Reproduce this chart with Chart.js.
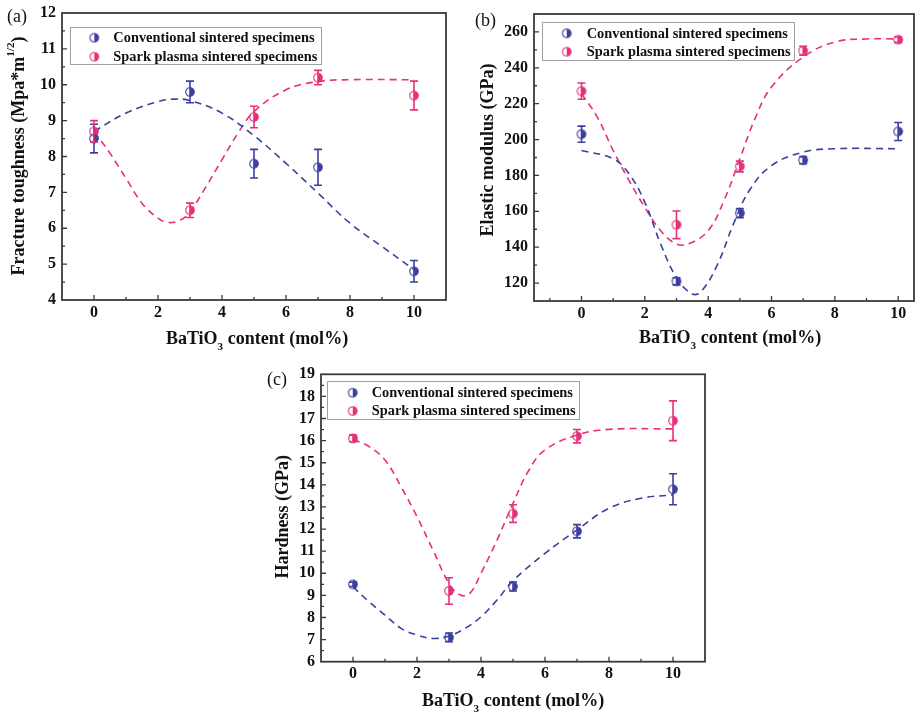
<!DOCTYPE html>
<html>
<head>
<meta charset="utf-8">
<script src="https://cdn.jsdelivr.net/npm/chart.js@4.4.0/dist/chart.umd.min.js"></script>
<style>
  html, body { margin: 0; padding: 0; width: 916px; height: 715px; overflow: hidden; background: #fff; }
  canvas { position: absolute; display: block; }
</style>
</head>
<body>
<canvas id="chartA" style="left:0px;top:0px"></canvas>
<canvas id="chartB" style="left:460px;top:0px"></canvas>
<canvas id="chartC" style="left:260px;top:355px"></canvas>
<script>
// BaTiO3 additions (mol%) shared by all three property plots
const contents = [0, 3, 5, 7, 10];
const xTickValues = [0, 2, 4, 6, 8, 10];
const seriesNames = ['Conventional sintered specimens', 'Spark plasma sintered specimens'];

// (a) fracture toughness, MPa·m^1/2
const toughTicks = [4, 5, 6, 7, 8, 9, 10, 11, 12];
const toughConv = [8.5, 9.8, 7.8, 7.7, 4.8];
const toughConvErr = [0.4, 0.3, 0.4, 0.5, 0.3];
const toughSps = [8.7, 6.5, 9.1, 10.2, 9.7];
const toughSpsErr = [0.3, 0.2, 0.3, 0.2, 0.4];
const toughConvFitX = [0, 1, 2, 2.5, 3, 4, 5, 6, 7, 8, 9, 10];
const toughConvFitY = [8.70, 9.21, 9.53, 9.60, 9.56, 9.21, 8.58, 7.81, 6.98, 6.14, 5.49, 4.85];
const toughSpsFitX = [0, 0.5, 1, 1.5, 2, 2.3, 2.7, 3, 3.5, 4, 4.5, 5, 6, 7, 8, 10];
const toughSpsFitY = [8.70, 8.09, 7.39, 6.70, 6.28, 6.16, 6.23, 6.46, 7.16, 7.91, 8.65, 9.25, 9.86, 10.09, 10.14, 10.14];

// (b) elastic modulus, GPa
const modTicks = [120, 140, 160, 180, 200, 220, 240, 260];
const modConv = [203, 121, 159, 188.5, 204.5];
const modConvErr = [4.5, 2, 2.5, 2, 5];
const modSps = [227, 152.5, 185, 249.5, 255.7];
const modSpsErr = [4.5, 7.7, 3, 2.5, 1.5];
const modConvFitX = [0, 1, 1.5, 2, 2.5, 3, 3.5, 3.8, 4.3, 4.8, 5.3, 6, 7, 8, 10];
const modConvFitY = [193.9, 189.3, 180.9, 165.0, 141.8, 123.1, 113.9, 115.7, 130.6, 153.0, 171.6, 185.5, 193.0, 194.9, 194.9];
const modSpsFitX = [0, 0.5, 1, 1.5, 2, 2.5, 3, 3.4, 4, 4.5, 5, 5.5, 6, 7, 8, 9, 10];
const modSpsFitY = [225.6, 212.5, 193.9, 177.2, 162.2, 149.2, 141.8, 142.0, 149.2, 166.0, 189.3, 212.5, 229.3, 246.0, 254.4, 256.1, 256.1];

// (c) hardness, GPa
const hardTicks = [6, 7, 8, 9, 10, 11, 12, 13, 14, 15, 16, 17, 18, 19];
const hardConv = [9.5, 7.1, 9.4, 11.9, 13.8];
const hardConvErr = [0.1, 0.2, 0.2, 0.3, 0.7];
const hardSps = [16.1, 9.2, 12.7, 16.2, 16.9];
const hardSpsErr = [0.15, 0.6, 0.4, 0.3, 0.9];
const hardConvFitX = [0, 0.5, 1, 1.5, 2, 2.5, 3, 3.5, 4, 4.5, 5, 6, 7, 8, 9, 10];
const hardConvFitY = [9.39, 8.71, 8.11, 7.51, 7.21, 7.05, 7.16, 7.51, 8.03, 8.79, 9.66, 10.90, 11.96, 12.94, 13.39, 13.55];
const hardSpsFitX = [0, 0.5, 1, 1.5, 2, 2.5, 3, 3.35, 3.65, 4, 4.5, 5, 5.5, 6, 7, 8, 10];
const hardSpsFitY = [16.06, 15.73, 15.12, 13.92, 12.56, 11.05, 9.54, 9.02, 9.09, 10.00, 11.50, 13.16, 14.67, 15.58, 16.25, 16.51, 16.53];

const BLUE = '#3c3f9e';
const PINK = '#e6307a';
const INK = '#111';
const FRAME = '#3a3a3a';
const SERIF = '"Liberation Serif", "Times New Roman", serif';

// half-filled circle used as the point marker (open left, solid right)
function halfMarker(color) {
  const c = document.createElement('canvas');
  c.width = 12; c.height = 12;
  const g = c.getContext('2d');
  g.beginPath();
  g.arc(6, 6, 4.3, -Math.PI / 2, Math.PI / 2);
  g.closePath();
  g.fillStyle = color;
  g.fill();
  g.beginPath();
  g.arc(6, 6, 4.3, 0, Math.PI * 2);
  g.strokeStyle = color;
  g.lineWidth = 1.1;
  g.stroke();
  return c;
}
const markerBlue = halfMarker(BLUE);
const markerPink = halfMarker(PINK);

function points(xs, ys) { return xs.map((x, i) => ({ x: x, y: ys[i] })); }

// text runs with optional sub/superscript pieces
function richWidth(ctx, parts, size) {
  let w = 0;
  parts.forEach(p => {
    ctx.font = 'bold ' + (p.sub || p.sup ? size * 0.62 : size) + 'px ' + SERIF;
    p.w = ctx.measureText(p.t).width;
    w += p.w;
  });
  return w;
}
function drawRich(ctx, parts, x0, y, size) {
  let x = x0;
  parts.forEach(p => {
    const s = p.sub || p.sup ? size * 0.62 : size;
    ctx.font = 'bold ' + s + 'px ' + SERIF;
    const dy = p.sub ? size * 0.32 : (p.sup ? -size * 0.42 : 0);
    ctx.fillText(p.t, x, y + dy);
    x += p.w;
  });
}

const errorBarPlugin = {
  id: 'errorBars',
  afterDatasetsDraw(chart) {
    const ctx = chart.ctx;
    const ys = chart.scales.y;
    chart.data.datasets.forEach((ds, di) => {
      if (!ds.errors) return;
      const meta = chart.getDatasetMeta(di);
      ctx.save();
      ctx.strokeStyle = ds.borderColor;
      ctx.lineWidth = 1.6;
      meta.data.forEach((pt, i) => {
        const v = ds.data[i].y, e = ds.errors[i];
        const top = ys.getPixelForValue(v + e);
        const bot = ys.getPixelForValue(v - e);
        const x = pt.x;
        ctx.beginPath();
        ctx.moveTo(x, top); ctx.lineTo(x, bot);
        ctx.moveTo(x - 4, top); ctx.lineTo(x + 4, top);
        ctx.moveTo(x - 4, bot); ctx.lineTo(x + 4, bot);
        ctx.stroke();
      });
      ctx.restore();
    });
  }
};

const decorPlugin = {
  id: 'decor',
  afterDraw(chart) {
    const o = chart.options.plugins.decor;
    const ctx = chart.ctx;
    const a = chart.chartArea;
    const xs = chart.scales.x, ys = chart.scales.y;
    ctx.save();
    // frame
    ctx.strokeStyle = FRAME;
    ctx.lineWidth = 1.8;
    ctx.strokeRect(a.left, a.top, a.right - a.left, a.bottom - a.top);
    // inward ticks on the bottom axis: majors on even, minors on odd values
    ctx.lineWidth = 1.3;
    ctx.beginPath();
    for (let v = Math.ceil(o.xMin); v <= o.xMax; v++) {
      const px = xs.getPixelForValue(v);
      if (px <= a.left + 1 || px >= a.right - 1) continue;
      const len = (v % 2 === 0) ? 5 : 3;
      ctx.moveTo(px, a.bottom); ctx.lineTo(px, a.bottom - len);
    }
    // inward ticks on the left axis
    for (let v = o.yMin; v <= o.yMax + 1e-9; v += o.yMinor) {
      const py = ys.getPixelForValue(v);
      if (py <= a.top + 1 || py >= a.bottom - 1) continue;
      const major = Math.abs(v / o.yMajor - Math.round(v / o.yMajor)) < 1e-6;
      ctx.moveTo(a.left, py); ctx.lineTo(a.left + (major ? 5 : 3), py);
    }
    ctx.stroke();

    // legend
    const L = o.legend;
    ctx.fillStyle = '#fff';
    ctx.fillRect(L.x, L.y, L.w, L.h);
    ctx.strokeStyle = '#a0a0a0';
    ctx.lineWidth = 1;
    ctx.strokeRect(L.x + 0.5, L.y + 0.5, L.w, L.h);
    ctx.font = 'bold 14.4px ' + SERIF;
    ctx.fillStyle = INK;
    ctx.textBaseline = 'middle';
    ctx.textAlign = 'left';
    [markerBlue, markerPink].forEach((m, i) => {
      ctx.drawImage(m, L.mx - 6, L.rows[i] - 6);
      ctx.fillText(seriesNames[i], L.tx, L.rows[i] + 0.5);
    });

    // panel letter
    ctx.font = '18px ' + SERIF;
    ctx.textBaseline = 'alphabetic';
    ctx.fillText(o.label.text, o.label.x, o.label.y);

    // x-axis title
    const xt = [{ t: 'BaTiO' }, { t: '3', sub: true }, { t: ' content (mol%)' }];
    const xw = richWidth(ctx, xt, 18);
    drawRich(ctx, xt, o.xTitle.cx - xw / 2, o.xTitle.y, 18);

    // y-axis title
    ctx.save();
    ctx.translate(o.yTitle.cx, o.yTitle.cy);
    ctx.rotate(-Math.PI / 2);
    ctx.textBaseline = 'middle';
    const yw = richWidth(ctx, o.yTitle.parts, 18);
    drawRich(ctx, o.yTitle.parts, -yw / 2, 0, 18);
    ctx.restore();
    ctx.restore();
  }
};

function makePanel(p) {
  const canvas = document.getElementById(p.id);
  canvas.width = p.w;
  canvas.height = p.h;
  const tickFont = { family: SERIF, weight: 'bold', size: 16 };
  const fitLine = (data, color) => ({
    label: 'fit', data: data, showLine: true, pointRadius: 0,
    borderColor: color, borderWidth: 1.6, borderDash: [7, 5], tension: 0.4
  });
  return new Chart(canvas, {
    type: 'scatter',
    data: {
      datasets: [
        { label: seriesNames[0], data: points(contents, p.conv), errors: p.convErr,
          borderColor: BLUE, backgroundColor: BLUE, pointStyle: markerBlue, pointRadius: 5, showLine: false },
        { label: seriesNames[1], data: points(contents, p.sps), errors: p.spsErr,
          borderColor: PINK, backgroundColor: PINK, pointStyle: markerPink, pointRadius: 5, showLine: false },
        fitLine(points(p.convFit[0], p.convFit[1]), BLUE),
        fitLine(points(p.spsFit[0], p.spsFit[1]), PINK)
      ]
    },
    options: {
      responsive: false,
      animation: false,
      events: [],
      layout: { padding: p.pad },
      scales: {
        x: {
          type: 'linear', min: p.xMin, max: p.xMax,
          grid: { display: false, drawTicks: false },
          border: { display: false },
          ticks: { font: tickFont, color: INK, padding: 3, maxRotation: 0, autoSkip: false },
          afterBuildTicks: s => { s.ticks = xTickValues.map(v => ({ value: v })); },
          afterFit: s => { s.height = p.xAxisH; s.paddingLeft = 0; s.paddingRight = 0; }
        },
        y: {
          type: 'linear', min: p.yMin, max: p.yMax,
          grid: { display: false, drawTicks: false },
          border: { display: false },
          ticks: { font: tickFont, color: INK, padding: 6, autoSkip: false },
          afterBuildTicks: s => { s.ticks = p.yTicks.map(v => ({ value: v })); },
          afterFit: s => { s.width = p.yAxisW; s.paddingTop = 0; s.paddingBottom = 0; }
        }
      },
      plugins: {
        legend: { display: false },
        tooltip: { enabled: false },
        decor: {
          xMin: p.xMin, xMax: p.xMax, yMin: p.yMin, yMax: p.yMax,
          yMajor: p.yMajor, yMinor: p.yMinor,
          legend: p.legend, label: p.label, xTitle: p.xTitle, yTitle: p.yTitle
        }
      }
    },
    plugins: [errorBarPlugin, decorPlugin]
  });
}

makePanel({
  id: 'chartA', w: 460, h: 352,
  pad: { top: 13, right: 14, left: 0, bottom: 0 }, yAxisW: 62, xAxisH: 52,
  xMin: -1, xMax: 11, yMin: 4, yMax: 12, yMajor: 1, yMinor: 0.5, yTicks: toughTicks,
  conv: toughConv, convErr: toughConvErr, sps: toughSps, spsErr: toughSpsErr,
  convFit: [toughConvFitX, toughConvFitY], spsFit: [toughSpsFitX, toughSpsFitY],
  legend: { x: 70, y: 27, w: 251, h: 37, mx: 94.3, rows: [37.7, 56.7], tx: 113.3 },
  label: { text: '(a)', x: 7, y: 22 },
  xTitle: { cx: 257, y: 344 },
  yTitle: { cx: 19, cy: 156, parts: [{ t: 'Fracture toughness (Mpa*m' }, { t: '1/2', sup: true }, { t: ')' }] }
});

makePanel({
  id: 'chartB', w: 460, h: 352,
  pad: { top: 14, right: 2, left: 0, bottom: 0 }, yAxisW: 74, xAxisH: 51,
  xMin: -1.5, xMax: 10.5, yMin: 110, yMax: 270, yMajor: 20, yMinor: 10, yTicks: modTicks,
  conv: modConv, convErr: modConvErr, sps: modSps, spsErr: modSpsErr,
  convFit: [modConvFitX, modConvFitY], spsFit: [modSpsFitX, modSpsFitY],
  legend: { x: 82, y: 22, w: 252, h: 38, mx: 106.7, rows: [33.3, 51.7], tx: 126.7 },
  label: { text: '(b)', x: 15, y: 26 },
  xTitle: { cx: 270, y: 343 },
  yTitle: { cx: 28, cy: 150, parts: [{ t: 'Elastic modulus (GPa)' }] }
});

makePanel({
  id: 'chartC', w: 460, h: 360,
  pad: { top: 19.3, right: 15, left: 0, bottom: 0 }, yAxisW: 61, xAxisH: 53.3,
  xMin: -1, xMax: 11, yMin: 6, yMax: 19, yMajor: 1, yMinor: 0.5, yTicks: hardTicks,
  conv: hardConv, convErr: hardConvErr, sps: hardSps, spsErr: hardSpsErr,
  convFit: [hardConvFitX, hardConvFitY], spsFit: [hardSpsFitX, hardSpsFitY],
  legend: { x: 67, y: 26, w: 252, h: 38, mx: 92.7, rows: [37.7, 56], tx: 111.7 },
  label: { text: '(c)', x: 7, y: 30 },
  xTitle: { cx: 253, y: 351 },
  yTitle: { cx: 23.5, cy: 161.7, parts: [{ t: 'Hardness (GPa)' }] }
});
</script>
</body>
</html>
